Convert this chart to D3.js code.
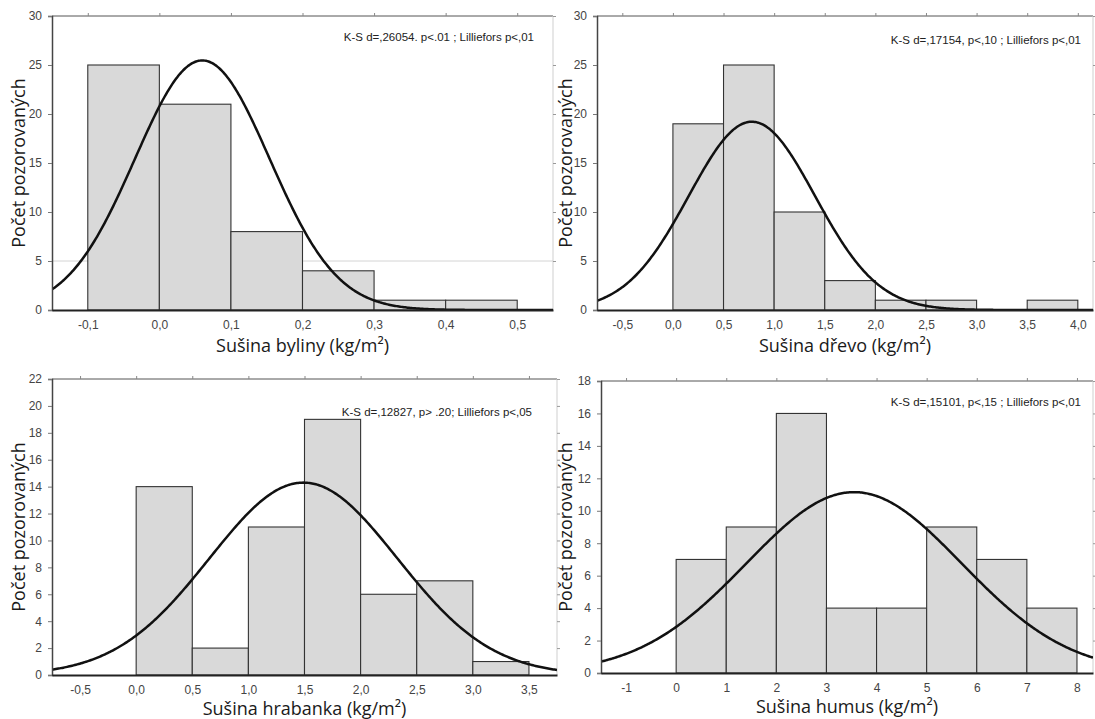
<!DOCTYPE html>
<html>
<head>
<meta charset="utf-8">
<script src="https://cdn.jsdelivr.net/npm/d3@7"></script>
<style>
  html, body { margin: 0; padding: 0; background: #fff; }
  svg { display: block; }
  .tick-label { font-family: "Liberation Sans", Arial, sans-serif; font-size: 12px; fill: #444; }
  .ax-title { font-family: "Open Sans", "Noto Sans", sans-serif; font-size: 18px; fill: #1a1a1a; }
  .annot { font-family: "Liberation Sans", Arial, sans-serif; font-size: 11.5px; fill: #222; }
</style>
</head>
<body>
<svg id="chart" width="1095" height="719"></svg>
<script>
// ---------- DATA ----------
// Panel 1: Sušina byliny
const binsByliny   = [-0.1, 0.0, 0.1, 0.2, 0.3, 0.4, 0.5];
const countsByliny = [25, 21, 8, 4, 1, 1];
const xTicksByliny = [-0.1, 0.0, 0.1, 0.2, 0.3, 0.4, 0.5];
const yTicksByliny = [0, 5, 10, 15, 20, 25, 30];
const fitByliny    = { mean: 0.06, sd: 0.094 };

// Panel 2: Sušina dřevo
const binsDrevo   = [0.0, 0.5, 1.0, 1.5, 2.0, 2.5, 3.0, 3.5, 4.0];
const countsDrevo = [19, 25, 10, 3, 1, 1, 0, 1];
const xTicksDrevo = [-0.5, 0.0, 0.5, 1.0, 1.5, 2.0, 2.5, 3.0, 3.5, 4.0];
const yTicksDrevo = [0, 5, 10, 15, 20, 25, 30];
const fitDrevo    = { mean: 0.78, sd: 0.623 };

// Panel 3: Sušina hrabanka
const binsHrabanka   = [0.0, 0.5, 1.0, 1.5, 2.0, 2.5, 3.0, 3.5];
const countsHrabanka = [14, 2, 11, 19, 6, 7, 1];
const xTicksHrabanka = [-0.5, 0.0, 0.5, 1.0, 1.5, 2.0, 2.5, 3.0, 3.5];
const yTicksHrabanka = [0, 2, 4, 6, 8, 10, 12, 14, 16, 18, 20, 22];
const fitHrabanka    = { mean: 1.49, sd: 0.837 };

// Panel 4: Sušina humus
const binsHumus   = [0, 1, 2, 3, 4, 5, 6, 7, 8];
const countsHumus = [7, 9, 16, 4, 4, 9, 7, 4];
const xTicksHumus = [-1, 0, 1, 2, 3, 4, 5, 6, 7, 8];
const yTicksHumus = [0, 2, 4, 6, 8, 10, 12, 14, 16, 18];
const fitHumus    = { mean: 3.55, sd: 2.147 };

const xTitles = ["Sušina byliny (kg/m²)", "Sušina dřevo (kg/m²)", "Sušina hrabanka (kg/m²)", "Sušina humus (kg/m²)"];
const yTitle = "Počet pozorovaných";
const annotations = [
  "K-S d=,26054. p<.01 ; Lilliefors p<,01",
  "K-S d=,17154, p<,10 ; Lilliefors p<,01",
  "K-S d=,12827, p> .20; Lilliefors p<,05",
  "K-S d=,15101, p<,15 ; Lilliefors p<,01"
];

// ---------- LAYOUT ----------
const panels = [
  { bins: binsByliny, counts: countsByliny, xTicks: xTicksByliny, yTicks: yTicksByliny, fit: fitByliny,
    xDom: [-0.15, 0.55], yMax: 30, box: {l: 52, r: 553, t: 16, b: 310}, fmt: 1,
    annot: {dx: -19, dy: 25}, xtY: 42, ytBase: 25, grid5: true },
  { bins: binsDrevo, counts: countsDrevo, xTicks: xTicksDrevo, yTicks: yTicksDrevo, fit: fitDrevo,
    xDom: [-0.75, 4.15], yMax: 30, box: {l: 597, r: 1093, t: 16, b: 310}, fmt: 1,
    annot: {dx: -12, dy: 28}, xtY: 42, ytBase: 572 },
  { bins: binsHrabanka, counts: countsHrabanka, xTicks: xTicksHrabanka, yTicks: yTicksHrabanka, fit: fitHrabanka,
    xDom: [-0.75, 3.75], yMax: 22, box: {l: 52, r: 557, t: 379, b: 675}, fmt: 1,
    annot: {dx: -25, dy: 37}, xtY: 40, ytBase: 25 },
  { bins: binsHumus, counts: countsHumus, xTicks: xTicksHumus, yTicks: yTicksHumus, fit: fitHumus,
    xDom: [-1.5, 8.32], yMax: 18, box: {l: 601, r: 1093, t: 381, b: 673}, fmt: 0,
    annot: {dx: -12, dy: 25}, xtY: 40, ytBase: 572 }
];

const svg = d3.select("#chart");
const defs = svg.append("defs");

panels.forEach((p, i) => {
  const B = p.box;
  const x = d3.scaleLinear().domain(p.xDom).range([B.l, B.r]);
  const y = d3.scaleLinear().domain([0, p.yMax]).range([B.b, B.t]);
  const g = svg.append("g");
  const fmt = v => (p.fmt ? d3.format(".1f")(v) : d3.format("d")(v)).replace(".", ",").replace("−", "-");

  defs.append("clipPath").attr("id", "clip" + i)
    .append("rect").attr("x", B.l).attr("y", B.t).attr("width", B.r - B.l).attr("height", B.b - B.t);

  if (p.grid5) {
    g.append("line").attr("x1", B.l).attr("x2", B.r).attr("y1", y(5)).attr("y2", y(5))
      .attr("stroke", "#d4d4d4").attr("stroke-width", 1);
  }

  // bars
  const binData = p.counts.map((c, k) => ({ x0: p.bins[k], x1: p.bins[k + 1], c }));
  g.selectAll("rect.bar").data(binData.filter(d => d.c > 0)).join("rect")
    .attr("class", "bar")
    .attr("x", d => x(d.x0)).attr("width", d => x(d.x1) - x(d.x0))
    .attr("y", d => y(d.c)).attr("height", d => y(0) - y(d.c))
    .attr("fill", "#d9d9d9").attr("stroke", "#333").attr("stroke-width", 1.1);

  // frame
  g.append("line").attr("x1", B.l).attr("x2", B.r).attr("y1", B.t).attr("y2", B.t)
    .attr("stroke", "#555").attr("stroke-width", 1);
  g.append("line").attr("x1", B.r).attr("x2", B.r).attr("y1", B.t).attr("y2", B.b)
    .attr("stroke", "#cfcfcf").attr("stroke-width", 1);

  // normal fit curve
  const n = d3.sum(p.counts);
  const bw = p.bins[1] - p.bins[0];
  const dens = v => n * bw / (p.fit.sd * Math.sqrt(2 * Math.PI)) * Math.exp(-0.5 * Math.pow((v - p.fit.mean) / p.fit.sd, 2));
  const xs = d3.range(0, 401).map(k => p.xDom[0] + (p.xDom[1] - p.xDom[0]) * k / 400);
  g.append("path").datum(xs)
    .attr("clip-path", "url(#clip" + i + ")")
    .attr("d", d3.line().x(v => x(v)).y(v => y(dens(v))))
    .attr("fill", "none").attr("stroke", "#111").attr("stroke-width", 2.5);

  // left axis
  const yAxis = g.append("g").attr("transform", `translate(${B.l},0)`)
    .call(d3.axisLeft(y).tickValues(p.yTicks).tickSize(4).tickPadding(6).tickFormat(d3.format("d")));
  yAxis.attr("font-family", null).attr("font-size", null);
  yAxis.select(".domain").attr("stroke", "#444").attr("stroke-width", 1.5);
  yAxis.selectAll(".tick line").attr("stroke", "#777");
  yAxis.selectAll(".tick text").attr("class", "tick-label").attr("fill", null);

  // bottom axis
  const xAxis = g.append("g").attr("transform", `translate(0,${B.b})`)
    .call(d3.axisBottom(x).tickValues(p.xTicks).tickSize(0).tickPadding(10).tickFormat(fmt));
  xAxis.attr("font-family", null).attr("font-size", null);
  xAxis.select(".domain").attr("stroke", "#222").attr("stroke-width", 2);
  xAxis.selectAll(".tick text").attr("class", "tick-label").attr("fill", null);

  // top ticks
  const topAxis = g.append("g").attr("transform", `translate(0,${B.t})`)
    .call(d3.axisTop(x).tickValues(p.xTicks).tickSize(3).tickFormat(""));
  topAxis.select(".domain").remove();
  topAxis.selectAll(".tick line").attr("stroke", "#888");

  // right ticks
  const rightAxis = g.append("g").attr("transform", `translate(${B.r},0)`)
    .call(d3.axisRight(y).tickValues(p.yTicks.filter(v => v > 0)).tickSize(3).tickFormat(""));
  rightAxis.select(".domain").remove();
  rightAxis.selectAll(".tick line").attr("stroke", "#999");

  // annotation
  g.append("text").attr("class", "annot")
    .attr("x", B.r + p.annot.dx).attr("y", B.t + p.annot.dy)
    .attr("text-anchor", "end").text(annotations[i]);

  // axis titles
  g.append("text").attr("class", "ax-title")
    .attr("x", (B.l + B.r) / 2).attr("y", B.b + p.xtY)
    .attr("text-anchor", "middle").text(xTitles[i]);
  const cy = (B.t + B.b) / 2;
  g.append("text").attr("class", "ax-title")
    .attr("transform", `translate(${p.ytBase},${cy}) rotate(-90)`)
    .attr("text-anchor", "middle").text(yTitle);
});
</script>
</body>
</html>
